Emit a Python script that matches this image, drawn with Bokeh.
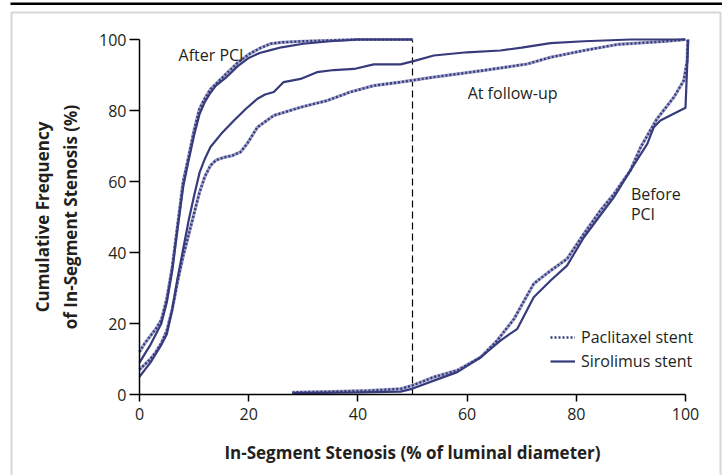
from bokeh.plotting import figure
from bokeh.models import Range1d, Label, Legend, LegendItem, PolyAnnotation, BoxAnnotation
from bokeh.embed import file_html
from bokeh.resources import INLINE

# ---- data ----
after_pac_x = [0, 1, 2, 3, 4, 5, 6, 7, 8, 9, 10, 11, 12, 13, 14, 16, 18, 20, 22, 24, 26, 30, 40, 50]
after_pac_y = [12, 14.5, 16.5, 18.5, 21, 27, 36, 48, 60, 67, 74.5, 80.5, 83.5, 86, 87.5, 90.5, 93.5, 95.8, 97.5, 98.8, 99.2, 99.5, 100, 100]

after_sir_x = [0, 1, 2, 3, 4, 5, 6, 7, 8, 9, 10, 11, 12, 13, 14, 16, 18, 20, 22, 24, 26, 30, 35, 40, 50]
after_sir_y = [9, 11.5, 14, 17, 20, 26, 35, 47, 58.5, 66, 73, 79, 82.5, 85, 87, 89.5, 92.5, 94.8, 96.2, 97, 97.8, 98.8, 99.5, 100, 100]

fu_pac_x = [0, 1, 2, 3, 4, 5, 6, 7, 8, 9, 10, 11, 12, 13, 14, 15.5, 17, 18.5, 19.7, 21.6, 24.6, 29.5, 34.4,
            38.6, 42.9, 47.8, 53.9, 63.1, 71, 75.3, 81.4, 87.5, 96.6, 100]
fu_pac_y = [7, 8.5, 10, 12, 14.5, 18, 24, 32, 39, 45, 51, 57, 61.5, 64.5, 66, 66.8, 67.3, 68.3, 70.6, 75.3, 78.6, 80.9, 82.8,
            85.2, 87, 88, 89.4, 91.3, 93.1, 95, 96.9, 98.6, 99.5, 100]

fu_sir_x = [0, 1, 2, 3, 4, 5, 6, 7, 8, 9, 10, 11, 12, 13, 15, 17.3, 19.5, 21.6, 23, 24.6, 26.4, 29.5, 32.5, 35.6,
            39.3, 42.9, 47.8, 50.2, 53.9, 60, 66.1, 70, 75.3, 81.4, 90, 100]
fu_sir_y = [5, 7, 9, 11.5, 14, 17, 24, 33, 41, 49, 56, 62.5, 66.5, 69.7, 73.5, 77.2, 80.5, 83.3, 84.5, 85.2, 88, 88.9, 90.8, 91.4,
            91.7, 93, 93, 93.9, 95.5, 96.4, 96.9, 97.7, 99, 99.5, 100, 100]

before_pac_x = [28, 35, 42, 47.8, 49.9, 53.9, 58.2, 62.5, 65.5, 68.6, 72.2, 75.3, 78.3, 81.4, 84.4, 86.9, 89.9,
                91.8, 94.8, 97.9, 99.7, 100.3, 100.4]
before_pac_y = [0.6, 0.8, 1.1, 1.6, 2.5, 4.9, 6.8, 10.5, 15.2, 21.3, 31.2, 34.9, 38.2, 45.3, 51.8, 56.5, 63.1,
                69.7, 77.7, 83.8, 88.5, 94, 100]

before_sir_x = [28, 40, 47.8, 49.9, 53.9, 58.2, 62.5, 66.1, 69.2, 72.2, 75.3, 78.3, 81.4, 84.4, 86.9, 89.9, 93,
                94.2, 95.4, 97.2, 100, 100.5]
before_sir_y = [0.4, 0.6, 0.8, 1.6, 3.9, 6.3, 10.5, 15.2, 18.5, 27.4, 32.1, 36.3, 44.3, 50.5, 55.6, 63.1, 70.6,
                75.3, 77.2, 78.6, 80.8, 100]

tick_values = [0, 20, 40, 60, 80, 100]
threshold = 50
series_names = ["Paclitaxel stent", "Sirolimus stent"]

# ---- layout / styles ----
W, H = 722, 475
X0_PX, Y0_PX = 139, 394          # pixel position of the data origin
XS, YS = 5.46, 3.55              # pixels per data unit
NAVY = "#373b7b"
HALO = "#a3a6cc"
TXT = "#231f20"
FONT = "Open Sans"

def px_x(px):
    return (px - X0_PX) / XS

def px_y(py):
    return (Y0_PX - py) / YS

p = figure(width=W, height=H, output_backend="svg", toolbar_location=None,
           x_range=Range1d(px_x(0), px_x(W)), y_range=Range1d(px_y(H), px_y(0)),
           min_border=0, min_border_left=0, min_border_right=0, min_border_top=0, min_border_bottom=0)
p.xgrid.visible = False
p.ygrid.visible = False
p.outline_line_color = None
p.background_fill_color = "white"
p.border_fill_color = "white"

for ax in (p.xaxis, p.yaxis):
    ax.fixed_location = 0
    ax.ticker = tick_values
    ax.bounds = (tick_values[0], tick_values[-1])
    ax.minor_tick_line_color = None
    ax.major_tick_in = 0
    ax.axis_line_color = "black"
    ax.axis_line_width = 1.5
    ax.major_tick_line_color = "black"
    ax.major_tick_line_width = 1.5
    ax.major_label_text_font = FONT
    ax.major_label_text_font_size = "16px"
    ax.major_label_text_color = TXT
    ax.axis_label_text_font = FONT
    ax.axis_label_text_font_style = "bold"
    ax.axis_label_text_font_size = "17px"
    ax.axis_label_text_color = TXT

p.xaxis.major_tick_out = 7
p.xaxis.major_label_standoff = 6
p.xaxis.axis_label = "In-Segment Stenosis (% of luminal diameter)"
p.xaxis.axis_label_standoff = 18
p.yaxis.major_tick_out = 10
p.yaxis.major_label_standoff = 3
p.yaxis.axis_label = "Cumulative Frequency\nof In-Segment Stenosis (%)"
p.yaxis.axis_label_standoff = 14

# reference line at 50 %
p.segment(x0=[threshold], y0=[tick_values[0]], x1=[threshold], y1=[tick_values[-1]],
          line_color="black", line_width=1.2, line_dash="7 4")

def dotted(xs, ys):
    p.line(xs, ys, line_color=HALO, line_width=3.2)
    return p.line(xs, ys, line_color=NAVY, line_width=2.4, line_dash="2 2")

def solid(xs, ys):
    return p.line(xs, ys, line_color=NAVY, line_width=2.2)

r_pac = dotted(before_pac_x, before_pac_y)
r_sir = solid(before_sir_x, before_sir_y)
dotted(fu_pac_x, fu_pac_y)
solid(fu_sir_x, fu_sir_y)
dotted(after_pac_x, after_pac_y)
solid(after_sir_x, after_sir_y)

# annotations
for txt, x, y in [("After PCI", 7.15, 95.7), ("At follow-up", 60.1, 85.0),
                  ("Before", 90.0, 56.5), ("PCI", 90.0, 50.8)]:
    p.add_layout(Label(x=x, y=y, text=txt, text_font=FONT, text_font_size="16px",
                       text_color=TXT, text_baseline="alphabetic"))

legend = Legend(items=[LegendItem(label=series_names[0], renderers=[r_pac]),
                       LegendItem(label=series_names[1], renderers=[r_sir])],
                location=(550, H - 372), padding=0, margin=0, spacing=2,
                glyph_width=25, glyph_height=20, label_height=20, label_standoff=6,
                label_text_font=FONT, label_text_font_size="16px", label_text_color=TXT,
                border_line_color=None, background_fill_alpha=0)
p.add_layout(legend)

# page frame
p.add_layout(PolyAnnotation(xs=[px_x(11), px_x(720), px_x(720), px_x(11)],
                            ys=[px_y(12), px_y(12), px_y(H + 30), px_y(H + 30)],
                            fill_alpha=0, line_color="#777777", line_width=2))
p.add_layout(BoxAnnotation(left=px_x(10), right=px_x(W + 10), top=px_y(2), bottom=px_y(4.5),
                           fill_color="black", fill_alpha=1, line_color=None))

open("out.html", "w").write(file_html(p, INLINE))
